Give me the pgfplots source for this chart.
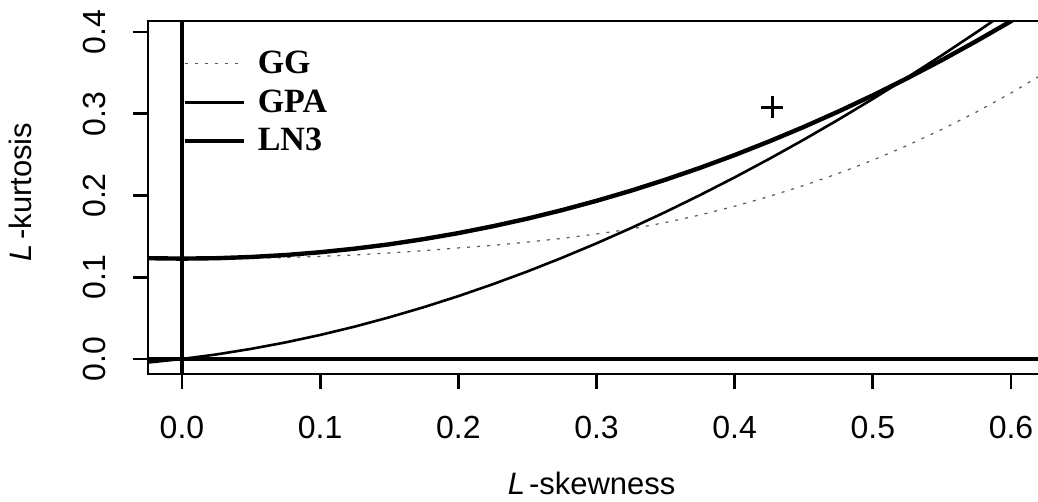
\documentclass[border=0pt]{standalone}
\usepackage{fontspec}
\setmainfont{Liberation Sans}
\newfontfamily\legfont{Liberation Serif}
\usepackage{pgfplots}
\pgfplotsset{compat=1.18}
\begin{document}
\begin{tikzpicture}
\path[use as bounding box] (0,0) rectangle (519pt,251pt);
\begin{axis}[
  at={(74pt,64pt)}, anchor=south west,
  scale only axis, width=449pt, height=176.5pt,
  xmin=-0.0246, xmax=0.6253, ymin=-0.01835, ymax=0.4135,
  axis line style={line width=1.4pt},
  xtick={0,0.1,0.2,0.3,0.4,0.5,0.6},
  xticklabels={0.0,0.1,0.2,0.3,0.4,0.5,0.6},
  ytick={0,0.1,0.2,0.3,0.4},
  yticklabels={0.0,0.1,0.2,0.3,0.4},
  tick align=outside, xtick pos=left, ytick pos=left,
  major tick length=7.5pt,
  tick style={line width=1.4pt, black},
  tick label style={font=\fontsize{16}{19}\selectfont},
  yticklabel style={rotate=90, anchor=south},
  xticklabel style={anchor=north},
  xticklabel shift=10pt, yticklabel shift=10pt,
  every axis y label/.style={at={(axis description cs:-0.142,0.516)}, rotate=90, anchor=center},
  every axis x label/.style={at={(axis description cs:0.494,-0.31)}, anchor=center},
  label style={font=\fontsize{15.5}{18}\selectfont},
  xlabel={{\itshape L}\hspace{2pt}-skewness},
  ylabel={{\itshape L}\hspace{2pt}-kurtosis},
  legend cell align=left,
  legend style={at={(axis cs:0,0.382)}, anchor=north west, draw=none, fill=none, inner sep=0pt,
    font=\legfont\bfseries\fontsize{17}{20}\selectfont, row sep=2.5pt, column sep=4pt},
  legend image code/.code={\draw[#1] (0pt,0pt) -- (29.5pt,0pt);},
]
% GG
\addplot[black!65, line width=0.6pt, dash pattern=on 1.5pt off 3.5pt] coordinates {
(-0.025,0.1226) (0,0.1224) (0.025,0.1226) (0.05,0.1232) (0.075,0.1241) (0.1,0.1255)
(0.125,0.1273) (0.15,0.1297) (0.175,0.1325) (0.2,0.1359) (0.225,0.1390) (0.25,0.1430)
(0.275,0.1475) (0.3,0.1530) (0.325,0.1590) (0.35,0.1670) (0.375,0.1762) (0.4,0.1869)
(0.425,0.1989) (0.45,0.2122) (0.475,0.2270) (0.5,0.2433) (0.525,0.2613) (0.55,0.2809)
(0.575,0.3022) (0.6,0.3254) (0.625,0.3505)};
% GPA
\addplot[black, line width=1.3pt] coordinates {
(-0.025,-0.0044) (0,0) (0.025,0.0056) (0.05,0.0124) (0.075,0.0203) (0.1,0.0294)
(0.125,0.0396) (0.15,0.0510) (0.175,0.0634) (0.2,0.0769) (0.225,0.0915) (0.25,0.1071)
(0.275,0.1238) (0.3,0.1415) (0.325,0.1602) (0.35,0.1799) (0.375,0.2006) (0.4,0.2222)
(0.425,0.2448) (0.45,0.2683) (0.475,0.2928) (0.5,0.3182) (0.525,0.3445) (0.55,0.3716)
(0.575,0.3997) (0.6,0.4286) (0.625,0.4583)};
% LN3
\addplot[black, line width=2.2pt] coordinates {
(-0.025,0.1233) (0,0.1228) (0.025,0.1233) (0.05,0.1248) (0.075,0.1272) (0.1,0.1306)
(0.125,0.1350) (0.15,0.1403) (0.175,0.1467) (0.2,0.1540) (0.225,0.1624) (0.25,0.1717)
(0.275,0.1821) (0.3,0.1935) (0.325,0.2059) (0.35,0.2194) (0.375,0.2339) (0.4,0.2495)
(0.425,0.2662) (0.45,0.2839) (0.475,0.3027) (0.5,0.3226) (0.525,0.3436) (0.55,0.3657)
(0.575,0.3890) (0.6,0.4133) (0.625,0.4389)};
\legend{GG,GPA,LN3}
% reference lines
\addplot[black, line width=1.8pt, forget plot] coordinates {(0,-0.01835) (0,0.4135)};
\addplot[black, line width=1.8pt, forget plot] coordinates {(-0.0246,0) (0.6253,0)};
% sample point
\addplot[black, only marks, mark=+, mark size=5.5pt, line width=1.5pt, forget plot] coordinates {(0.427,0.308)};
\end{axis}
\end{tikzpicture}
\end{document}
